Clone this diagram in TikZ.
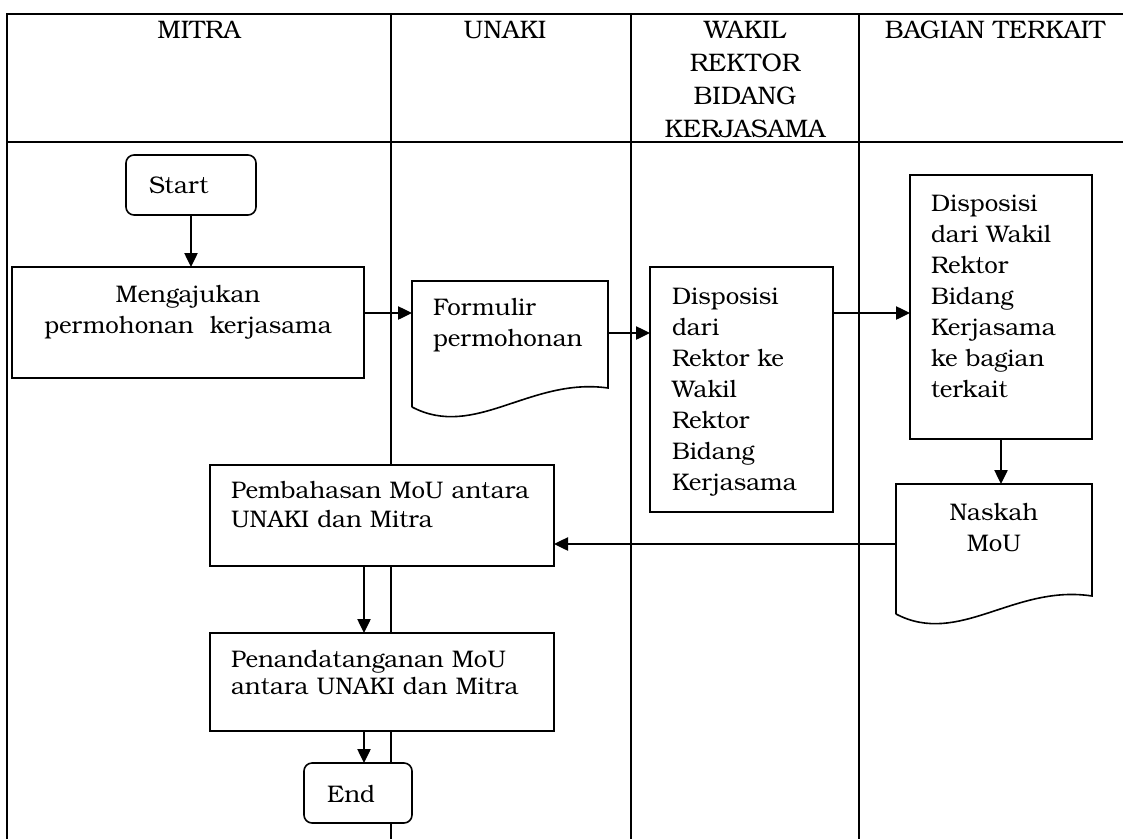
\documentclass[tikz,border=0pt]{standalone}
\usepackage{fontspec}
\setmainfont{TeX Gyre Bonum}
\usetikzlibrary{arrows.meta}
\usetikzlibrary{calc}

\begin{document}
\begin{tikzpicture}[
    x = .75pt,
    y = -.75pt,
    font = \fontsize{18}{23.25}\selectfont,
    proses/.style = {
      rectangle,
      draw,
      line width=1.2pt,
      fill=white,
      anchor=north west,
      inner ysep=0pt,
      outer sep=0pt,
      align=left
    },
    terminal/.style = {
      proses,
      rounded corners=6pt
    },
    dokumen/.style = {
      proses,
      draw=none,
      fill=none
    },
    judul/.style = {
      anchor=base,
      text width=180pt,
      align=center,
      font=\fontsize{19}{24.75}\selectfont
    },
    garis/.style = {line width=1.7pt},
    tepi/.style = {line width=1.2pt},
    panah/.style = {-{Triangle[length=10.5pt,width=10pt]}, line width=1pt}
  ]
    \useasboundingbox (0,0) rectangle (1123,839);

    % tabel
    \draw[garis] (7,839) -- (7,14) -- (1123,14);
    \draw[garis] (7,142) -- (1123,142);
    \foreach \x in {391,631,859}
      \draw[garis] (\x,14) -- (\x,839);

    % judul kolom
    \node[judul] (mitra) at (199,38) {MITRA};
    \node[judul] (unaki) at (505,38) {UNAKI};
    \node[judul] (wakil) at (745,38) {WAKIL\\REKTOR\\BIDANG\\KERJASAMA};
    \node[judul] (bagian) at (995,38) {BAGIAN TERKAIT};

    % langkah
    \node[terminal, inner xsep=17.25pt, text width=63pt, text height=28.5pt, text depth=16.5pt]
      (mulai) at (126,155) {Start};
    \node[proses, align=center, inner xsep=7.5pt, text width=249pt, text height=26.25pt, text depth=57pt]
      (ajukan) at (12,267) {Mengajukan\\permohonan\ \ kerjasama};
    \node[dokumen, inner xsep=15.75pt, text width=115.5pt, text height=25.5pt, text depth=69pt]
      (formulir) at (412,281) {Formulir\\permohonan};
    \draw[tepi] (formulir.south west) -- (formulir.north west) -- (formulir.north east)
      -- (608,388) .. controls (530,377) and (475,440) .. (formulir.south west);
    \node[proses, inner xsep=16.5pt, text width=104.25pt, text height=27.75pt, text depth=156pt]
      (disp) at (650,267) {Disposisi\\dari\\Rektor ke\\Wakil\\Rektor\\Bidang\\Kerjasama};
    \node[proses, inner xsep=15.75pt, text width=105pt, text height=27pt, text depth=171pt]
      (disp2) at (910,175) {Disposisi\\dari Wakil\\Rektor\\Bidang\\Kerjasama\\ke bagian\\terkait};
    \node[dokumen, align=center, inner xsep=7.5pt, text width=132pt, text height=27pt, text depth=70.5pt]
      (naskah) at (896,484) {Naskah\\MoU};
    \draw[tepi] (naskah.south west) -- (naskah.north west) -- (naskah.north east)
      -- (1092,596) .. controls (1014,584) and (959,647) .. (naskah.south west);
    \node[proses, font=\fontsize{18}{21.75}\selectfont, inner xsep=15.75pt, text width=226.5pt, text height=24.75pt, text depth=51pt]
      (bahas) at (210,465) {\mbox{Pembahasan MoU antara}\\UNAKI dan Mitra};
    \node[proses, font=\fontsize{18}{20.25}\selectfont, inner xsep=15.75pt, text width=226.5pt, text height=25.5pt, text depth=48pt]
      (tanda) at (210,633) {Penandatanganan MoU\\antara UNAKI dan Mitra};
    \node[terminal, inner xsep=17.25pt, text width=46.5pt, text height=29.25pt, text depth=15.75pt]
      (selesai) at (304,763) {End};

    % alur
    \draw[panah] (mulai.south) -- (mulai.south |- ajukan.north);
    \draw[panah] (ajukan.east |- 0,313) -- (formulir.west |- 0,313);
    \draw[panah] (formulir.east |- 0,333) -- (disp.west |- 0,333);
    \draw[panah] (disp.east |- 0,313) -- (disp2.west |- 0,313);
    \draw[panah] (disp2.south) -- (disp2.south |- naskah.north);
    \draw[panah] (naskah.west |- 0,544) -- (bahas.east |- 0,544);
    \draw[panah] (bahas.south -| 364,0) -- (tanda.north -| 364,0);
    \draw[panah] (tanda.south -| 364,0) -- (selesai.north -| 364,0);
  \end{tikzpicture}
\end{document}
